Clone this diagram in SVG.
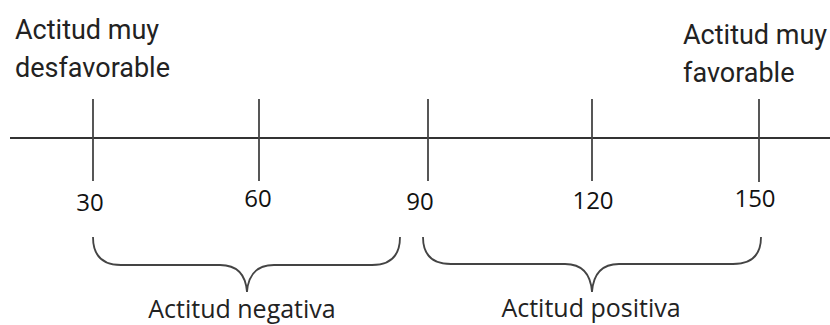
<svg xmlns="http://www.w3.org/2000/svg" width="830" height="325" viewBox="0 0 830 325">
<style>
.top{font-family:Roboto,"Liberation Sans",sans-serif;font-size:27px;fill:#222}
.num{font-family:"Open Sans","Liberation Sans",sans-serif;font-size:24px;fill:#111;text-anchor:middle}
.lab{font-family:"Open Sans","Liberation Sans",sans-serif;font-size:25px;fill:#222;text-anchor:middle}
.axis{stroke:#333;stroke-width:2;fill:none}
.tick{stroke:#444;stroke-width:1.8;fill:none}
.brace{stroke:#444;stroke-width:1.8;fill:none}
</style>
<rect width="830" height="325" fill="#fff"/>
<g id="connectors">
<line class="axis" x1="10" y1="138" x2="830" y2="138"/>
<line class="tick" x1="93" y1="99" x2="93" y2="181"/>
<line class="tick" x1="259" y1="99" x2="259" y2="181"/>
<line class="tick" x1="428" y1="99" x2="428" y2="181"/>
<line class="tick" x1="592" y1="99" x2="592" y2="181"/>
<line class="tick" x1="759" y1="99" x2="759" y2="182"/>
<path class="brace" d="M93,237 Q93,265 121,265 L220,265 Q245,265 247,292 Q249,265 274,265 L372,265 Q400,265 400,237"/>
<path class="brace" d="M423,237 Q423,264 451,264 L565,264 Q590,264 592,292 Q594,264 619,264 L733,264 Q761,264 761,237"/>
</g>
<g id="label-left">
<text class="top" x="15" y="39">Actitud muy</text>
<text class="top" x="15" y="77">desfavorable</text>
</g>
<g id="label-right">
<text class="top" x="683" y="44">Actitud muy</text>
<text class="top" x="683" y="82">favorable</text>
</g>
<g id="n30"><text class="num" x="90" y="211">30</text></g>
<g id="n60"><text class="num" x="258" y="207">60</text></g>
<g id="n90"><text class="num" x="420" y="210">90</text></g>
<g id="n120"><text class="num" x="593" y="209">120</text></g>
<g id="n150"><text class="num" x="755" y="207">150</text></g>
<g id="neg"><text class="lab" x="242" y="318">Actitud negativa</text></g>
<g id="pos"><text class="lab" x="591" y="317">Actitud positiva</text></g>
</svg>
